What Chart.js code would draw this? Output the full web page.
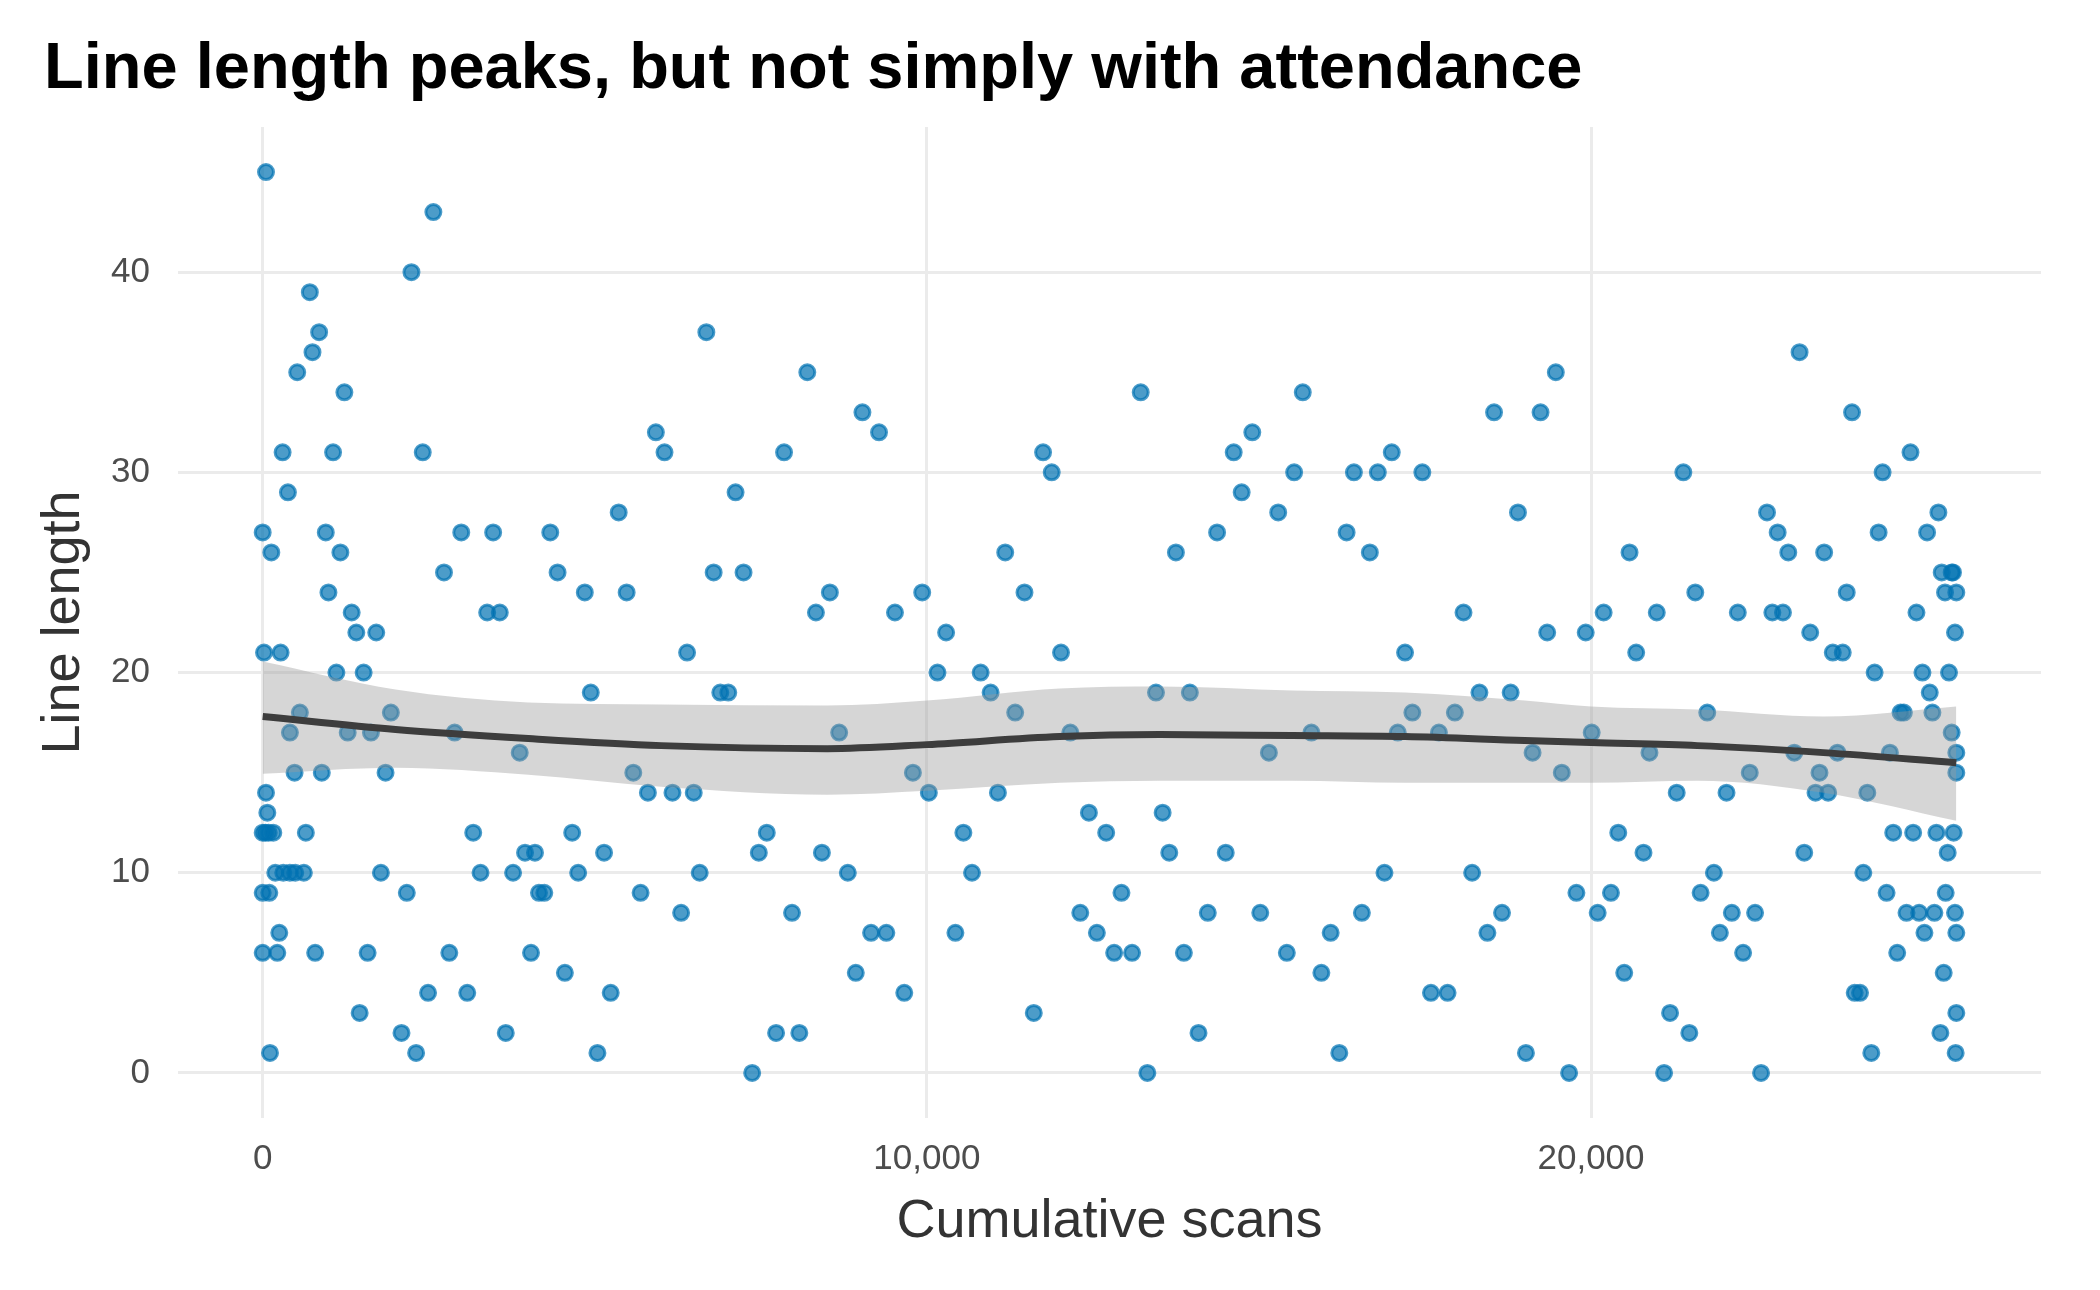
<!DOCTYPE html>
<html>
<head>
<meta charset="utf-8">
<title>Line length vs cumulative scans</title>
<script src="https://cdn.jsdelivr.net/npm/chart.js@4.4.1/dist/chart.umd.min.js"></script>
<style>
    html, body { margin: 0; padding: 0; background: #ffffff; }
    canvas { display: block; }
</style>
</head>
<body>
<canvas id="scanChart" width="2100" height="1290"></canvas>
<script>
// cumulative scans at each observation
var scans = [
    0, 0, 0, 0, 20, 40, 50, 50, 70, 90,
    100, 110, 130, 160, 190, 220, 250, 270, 300, 310,
    380, 410, 410, 480, 490, 520, 560, 620, 650, 710,
    750, 790, 850, 890, 950, 990, 1060, 1110, 1170, 1230,
    1280, 1340, 1410, 1460, 1520, 1580, 1630, 1710, 1780, 1850,
    1930, 2090, 2170, 2240, 2310, 2410, 2490, 2570, 2730, 2810,
    2890, 2990, 3080, 3170, 3280, 3380, 3470, 3570, 3660, 3770,
    3870, 3950, 4040, 4100, 4160, 4240, 4330, 4440, 4550, 4660,
    4750, 4850, 4940, 5040, 5140, 5240, 5360, 5480, 5580, 5690,
    5800, 5920, 6050, 6170, 6300, 6390, 6490, 6580, 6680, 6790,
    6890, 7010, 7120, 7240, 7370, 7470, 7590, 7730, 7850, 7970,
    8080, 8200, 8330, 8420, 8540, 8680, 8810, 8930, 9030, 9160,
    9280, 9390, 9520, 9660, 9790, 9930, 10030, 10160, 10290, 10430,
    10550, 10680, 10810, 10960, 11070, 11180, 11330, 11470, 11610, 11750,
    11880, 12020, 12160, 12310, 12440, 12560, 12700, 12820, 12930, 13090,
    13220, 13320, 13450, 13550, 13650, 13750, 13870, 13960, 14090, 14230,
    14370, 14500, 14620, 14740, 14900, 15020, 15150, 15290, 15420, 15530,
    15660, 15790, 15940, 16080, 16210, 16320, 16430, 16550, 16670, 16790,
    16890, 17000, 17090, 17200, 17310, 17460, 17590, 17710, 17840, 17950,
    18080, 18210, 18320, 18440, 18540, 18660, 18790, 18900, 19020, 19120,
    19240, 19340, 19470, 19560, 19670, 19780, 19920, 20010, 20100, 20190,
    20300, 20410, 20500, 20580, 20680, 20790, 20880, 20990, 21100, 21190,
    21290, 21390, 21480, 21570, 21650, 21750, 21850, 21940, 22040, 22120,
    22210, 22290, 22390, 22470, 22560, 22650, 22730, 22810, 22890, 22970,
    23060, 23140, 23210, 23300, 23380, 23440, 23510, 23570, 23640, 23710,
    23790, 23850, 23930, 23970, 24050, 24100, 24160, 24220, 24270, 24330,
    24390, 24450, 24500, 24550, 24610, 24660, 24710, 24750, 24810, 24850,
    24900, 24940, 24990, 25020, 25060, 25100, 25140, 25170, 25200, 25230,
    25260, 25280, 25310, 25330, 25340, 25370, 25390, 25430, 25430, 25450,
    25460, 25480, 25480, 25490, 25500, 25500, 25500, 25500, 25500
];

// line length seen at that point
var lineLength = [
    27, 12, 9, 6, 21, 12, 45, 14, 13, 12,
    9, 1, 26, 12, 10, 6, 7, 21, 31, 10,
    29, 10, 17, 15, 10, 35, 18, 10, 12, 39,
    36, 6, 37, 15, 27, 24, 31, 20, 26, 34,
    17, 23, 22, 3, 20, 6, 17, 22, 10, 15,
    18, 2, 9, 40, 1, 31, 4, 43, 25, 6,
    17, 27, 4, 12, 10, 23, 27, 23, 2, 10,
    16, 11, 6, 11, 9, 9, 27, 25, 5, 12,
    10, 24, 19, 1, 11, 4, 28, 24, 15, 9,
    14, 32, 31, 14, 8, 21, 14, 10, 37, 25,
    19, 19, 29, 25, 0, 11, 12, 2, 31, 8,
    2, 35, 23, 11, 24, 17, 10, 5, 33, 7,
    32, 7, 23, 4, 15, 24, 14, 20, 22, 7,
    12, 10, 20, 19, 14, 26, 18, 24, 3, 31,
    30, 21, 17, 8, 13, 7, 12, 6, 9, 6,
    34, 0, 19, 13, 11, 26, 6, 19, 2, 8,
    27, 11, 31, 29, 32, 8, 16, 28, 6, 30,
    34, 17, 5, 7, 1, 27, 30, 8, 26, 30,
    10, 31, 17, 21, 18, 30, 4, 17, 4, 18,
    23, 10, 19, 7, 33, 8, 19, 28, 1, 16,
    33, 22, 35, 15, 0, 9, 22, 17, 8, 23,
    9, 12, 5, 26, 21, 11, 16, 23, 0, 3,
    14, 30, 2, 24, 9, 18, 10, 7, 14, 8,
    23, 6, 15, 8, 0, 28, 23, 27, 23, 26,
    16, 36, 11, 22, 14, 15, 26, 14, 21, 16,
    21, 24, 33, 4, 4, 10, 14, 1, 20, 27,
    30, 9, 16, 12, 6, 18, 18, 8, 31, 12,
    23, 8, 20, 7, 27, 19, 18, 8, 12, 28,
    2, 25, 5, 24, 9, 11, 20, 25, 17, 25,
    12, 22, 8, 1, 24, 16, 15, 7, 3
];

// smoothed trend and its confidence band
var smoothX     = [0, 2000, 4000, 6000, 8500, 10000, 12000, 13500, 15500, 17200, 19000, 20000, 21600, 23500, 25500];
var smoothFit   = [17.8, 17.15, 16.7, 16.35, 16.2, 16.4, 16.8, 16.9, 16.85, 16.8, 16.6, 16.5, 16.35, 16.0, 15.5];
var smoothUpper = [20.55, 19.15, 18.5, 18.4, 18.35, 18.6, 19.2, 19.3, 19.1, 19.0, 18.6, 18.3, 18.15, 17.8, 18.3];
var smoothLower = [14.95, 15.25, 14.9, 14.3, 13.9, 14.1, 14.5, 14.6, 14.6, 14.5, 14.5, 14.5, 14.6, 14.0, 12.6];

// axis ticks
var xTicks = [0, 10000, 20000];
var xTickLabels = ['0', '10,000', '20,000'];
var yTicks = [0, 10, 20, 30, 40];

function pairs(xs, ys) {
    var out = [];
    for (var i = 0; i < xs.length; i++) out.push({x: xs[i], y: ys[i]});
    return out;
}

var fontFamily = "'Liberation Sans', Arial, Helvetica, sans-serif";
var gridColor = '#ebebeb';

var ctx = document.getElementById('scanChart').getContext('2d');
var chart = new Chart(ctx, {
    type: 'scatter',
    data: {
        datasets: [
            {
                label: 'Scans',
                data: pairs(scans, lineLength),
                backgroundColor: 'rgba(0, 114, 178, 0.7)',
                borderColor: 'rgba(0, 114, 178, 0.7)',
                borderWidth: 3,
                pointRadius: 7.5,
                order: 3
            },
            {
                label: 'Upper',
                data: pairs(smoothX, smoothUpper),
                showLine: true,
                fill: '+1',
                backgroundColor: 'rgba(153, 153, 153, 0.4)',
                borderWidth: 0,
                pointRadius: 0,
                cubicInterpolationMode: 'monotone',
                order: 2
            },
            {
                label: 'Lower',
                data: pairs(smoothX, smoothLower),
                showLine: true,
                fill: false,
                borderWidth: 0,
                pointRadius: 0,
                cubicInterpolationMode: 'monotone',
                order: 2
            },
            {
                label: 'Trend',
                data: pairs(smoothX, smoothFit),
                showLine: true,
                fill: false,
                borderColor: '#3d3d3d',
                borderWidth: 7,
                pointRadius: 0,
                cubicInterpolationMode: 'monotone',
                order: 1
            }
        ]
    },
    options: {
        responsive: false,
        animation: false,
        devicePixelRatio: 1,
        layout: {padding: {left: 44, right: 59, top: 0, bottom: 0}},
        plugins: {
            legend: {display: false},
            tooltip: {enabled: false},
            title: {
                display: true,
                text: 'Line length peaks, but not simply with attendance',
                align: 'start',
                color: '#000000',
                font: {family: fontFamily, size: 65, weight: 'bold', lineHeight: 1.2},
                padding: {top: 31, bottom: 18}
            }
        },
        scales: {
            x: {
                type: 'linear',
                min: -1275,
                max: 26775,
                border: {display: false},
                grid: {color: gridColor, lineWidth: 3, drawTicks: false},
                afterBuildTicks: function (axis) {
                    axis.ticks = xTicks.map(function (v) { return {value: v}; });
                },
                afterFit: function (axis) { axis.height = 172; },
                ticks: {
                    color: '#4d4d4d',
                    padding: 20,
                    font: {family: fontFamily, size: 35},
                    callback: function (value) {
                        var i = xTicks.indexOf(value);
                        return i >= 0 ? xTickLabels[i] : '';
                    }
                },
                title: {
                    display: true,
                    text: 'Cumulative scans',
                    color: '#333333',
                    font: {family: fontFamily, size: 54, lineHeight: 1.2},
                    padding: {top: 0, bottom: 35}
                }
            },
            y: {
                type: 'linear',
                min: -2.25,
                max: 47.25,
                border: {display: false},
                grid: {color: gridColor, lineWidth: 3, drawTicks: false},
                afterBuildTicks: function (axis) {
                    axis.ticks = yTicks.map(function (v) { return {value: v}; });
                },
                afterFit: function (axis) { axis.width = 134; },
                ticks: {
                    color: '#4d4d4d',
                    padding: 28,
                    font: {family: fontFamily, size: 35}
                },
                title: {
                    display: true,
                    text: 'Line length',
                    color: '#333333',
                    font: {family: fontFamily, size: 54, lineHeight: 0.75},
                    padding: {top: 0, bottom: 0}
                }
            }
        }
    }
});
</script>
</body>
</html>
